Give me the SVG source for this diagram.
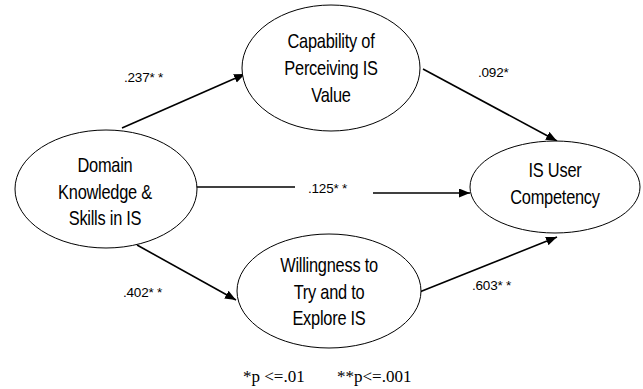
<svg xmlns="http://www.w3.org/2000/svg" width="643" height="389" viewBox="0 0 643 389">
<style>
.node ellipse{fill:#fff;stroke:#000;stroke-width:1}
.node text{font-family:"Liberation Sans",Arial,sans-serif;font-size:20px;letter-spacing:-0.3px;text-anchor:middle;fill:#000}
.edges line{stroke:#000;stroke-width:1.6}
.lbl{font-family:"Liberation Sans",Arial,sans-serif;font-size:13.5px;letter-spacing:-0.2px;fill:#000}
.note{font-family:"Liberation Serif","Times New Roman",serif;font-size:17px;fill:#000}
</style>
<defs>
<marker id="ah" markerUnits="userSpaceOnUse" markerWidth="12" markerHeight="10" refX="11" refY="4.5" orient="auto">
<path d="M0,0 L11,4.5 L0,9 Z" fill="#000"/>
</marker>
</defs>
<g id="connectors" class="edges">
<line x1="122" y1="128" x2="245" y2="74" marker-end="url(#ah)"/>
<line x1="423" y1="69" x2="557" y2="141" marker-end="url(#ah)"/>
<line x1="196" y1="187" x2="295" y2="187"/>
<line x1="373" y1="193" x2="470" y2="193" marker-end="url(#ah)"/>
<line x1="137" y1="245" x2="236" y2="300" marker-end="url(#ah)"/>
<line x1="417" y1="293" x2="557" y2="237" marker-end="url(#ah)"/>
</g>
<g id="n-capability" class="node">
<ellipse cx="331" cy="68" rx="89" ry="63"/>
<g transform="translate(331,0) scale(0.82,1)">
<text x="0" y="48">Capability of</text>
<text x="0" y="75">Perceiving IS</text>
<text x="0" y="102.5">Value</text>
</g>
</g>
<g id="n-domain" class="node">
<ellipse cx="106" cy="189" rx="91" ry="59"/>
<g transform="translate(105,0) scale(0.82,1)">
<text x="0" y="172">Domain</text>
<text x="0" y="199">Knowledge &amp;</text>
<text x="0" y="225">Skills in IS</text>
</g>
</g>
<g id="n-user" class="node">
<ellipse cx="555" cy="187" rx="85" ry="46"/>
<g transform="translate(555,0) scale(0.82,1)">
<text x="0" y="177">IS User</text>
<text x="0" y="204">Competency</text>
</g>
</g>
<g id="n-willingness" class="node">
<ellipse cx="329" cy="291" rx="92" ry="57"/>
<g transform="translate(329,0) scale(0.82,1)">
<text x="0" y="272">Willingness to</text>
<text x="0" y="299">Try and to</text>
<text x="0" y="325">Explore IS</text>
</g>
</g>
<g id="labels">
<text class="lbl" x="124" y="82">.237* *</text>
<text class="lbl" x="478" y="77">.092*</text>
<text class="lbl" x="308" y="193">.125* *</text>
<text class="lbl" x="123" y="297">.402* *</text>
<text class="lbl" x="472" y="290">.603* *</text>
<text class="note" x="243" y="382">*p &lt;=.01</text>
<text class="note" x="337" y="382">**p&lt;=.001</text>
</g>
</svg>
